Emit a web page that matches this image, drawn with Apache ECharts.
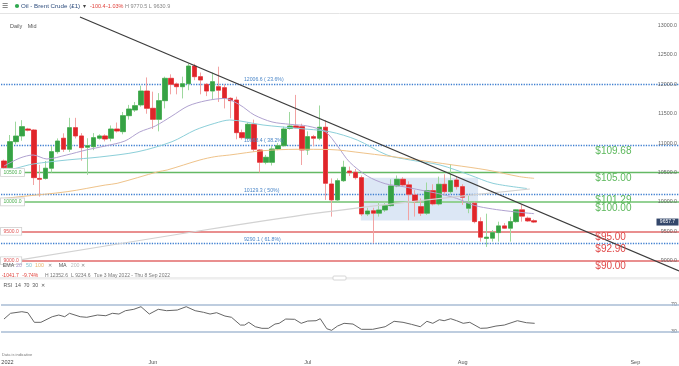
<!DOCTYPE html>
<html><head><meta charset="utf-8">
<script src="https://cdn.jsdelivr.net/npm/echarts@6/dist/echarts.min.js"></script>
<style>html,body{margin:0;padding:0;background:#fff}#c{width:679px;height:366px}</style>
</head><body><div id="c"></div><script>
// ---- data (Brent Crude daily, cents) ----
const opens = [10696,10583,11025,11122,11240,11223,10400,10400,10573,10855, 11083,10896,11263,11122,10930,10940,11083,11122,11083,11240, 11195,11467,11563,11650,11886,11592,11405,11722,12102,12006, 11960,12010,12311,12130,12000,11886,11960,11943,11762,11733, 11178,11083,11320,10883,10674,10674,10900,10957,11250,11292, 11280,10883,11110,11083,11270,10305,10034,10361,10525,10504, 10413,9795,9850,9808,9863,9937,10272,10385,10290,10118, 9920,9808,10192,9966,10300,10175,10373,10260,9892,9977, 9665,9380,9383,9478,9592,9553,9665,9865,9723,9680];
const closes = [10583,11025,11120,11280,11220,10413,10385,10573,10855,11036, 10896,11263,11122,10923,10957,11093,11122,11070,11240,11206, 11467,11580,11637,11886,11592,11405,11722,12102,12000,11960, 12010,12311,12130,12073,11886,12045,11900,11762,11722,11178, 11093,11320,10896,10674,10759,10900,10957,11240,11290,11263, 10883,11110,11083,11270,10317,10034,10361,10590,10497,10413, 9795,9846,9808,9863,9937,10272,10385,10290,10130,10005, 9808,10192,9966,10300,10175,10362,10260,10079,9977,9665, 9400,9400,9478,9592,9553,9665,9865,9758.1,9677,9657.7];
const highs = [10720,11138,11365,11390,11260,11240,10630,10696,10950,11080, 11167,11430,11430,11170,11083,11170,11150,11150,11300,11350, 11530,11650,11700,11977,12117,11875,11850,12130,12170,12030, 12130,12352.6,12350,12200,12020,12200,12300,12000,11780,11790, 11230,11350,11400,10900,10800,10950,11000,11280,11530,11820, 11330,11200,11140,11640,11390,10400,10400,10700,10600,10560, 10450,9900,9900,10000,10000,10385,10450,10420,10350,10200, 10060,10330,10300,10430,10470,10640,10430,10300,10118,10004, 9738,9800,9522,9664,9640,9748,9874,9947,9750,9705];
const lows = [10560,10570,10980,11040,11200,10288,10090,10380,10500,10820, 10850,10850,11080,10700,10460,10880,11060,11030,11030,11180, 11150,11400,11530,11620,11500,11240,11200,11590,11830,11830, 11760,11900,12070,11830,11800,11750,11700,11590,11422,11065, 11060,11060,10850,10500,10640,10620,10880,10940,11230,11250, 10628,10800,10950,11050,10034,9750,10000,10340,10440,10380, 9760,9760,9297,9750,9830,9920,10250,10260,9690,9750, 9760,9780,9940,9940,10140,10140,10210,9950,9808,9636, 9325,9234.6,9325,9325,9540,9325,9646,9664,9660,9640];

// moving averages read at sample bars (bar index, value)
const ema20X = [0,2.7,4.9,7.2,10.5,13.8,17,20.3,22.8,25.4,28.2,30.9,33.9,37,39.6,42,45,48,51,54,56,58,61,64,67,70,73,76,79,82,85,89];
const ema20V = [10610,10747,10798,10730,10798,10883,10951,11036,11190,11291,11461,11631,11721,11760,11650,11480,11360,11320,11290,11190,10950,10680,10440,10310,10260,10200,10140,10060,9940,9880,9840,9800];
const ema50X = [0,2.2,4.9,10.6,16.1,22.5,28.2,32.1,35.4,37.9,43.5,49.2,54.7,59.3,64.3,68.2,73.2,78.2,82.1,87.8];
const ema50V = [10525,10577,10645,10713,10764,10854,11024,11223,11337,11393,11308,11252,11194,11053,10798,10713,10628,10458,10316,10228];
const sma100X = [0,2.7,10.6,17,19,25.9,27.4,32.9,35.4,37.9,43.5,49.2,54.7,60.3,68.2,75.4,81.1,86.6,89];
const sma100V = [10060,10089,10174,10287,10316,10514,10543,10713,10769,10798,10871,10895,10891,10832,10730,10628,10543,10429,10401];
const ma200X = [0,2.7,32.9,52.2,70.7,88.3];
const ma200V = [8970,9013,9510,9806,10032,10220];

// RSI(14)
const rsiX = [0,1.1,3.0,4.0,5.1,6.2,8.1,9.2,10.2,11.0,12.8,13.9,15.7,17.1,18.2,19.3,20.4,21.8,23.0,24.4,25.9,27.3,29.1,30.6,32.1,33.5,34.6,35.7,37.1,38.2,39.7,40.4,41.1,42.2,43.3,44.4,45.5,46.2,47.3,48.8,49.9,51.0,52.4,53.1,54.2,55.0,56.0,57.1,58.6,60.0,61.9,64.0,65.5,67.0,68.4,69.9,71.0,72.0,73.1,73.9,75.0,76.0,77.1,78.2,80.0,81.1,82.6,84.0,86.2,87.7,89.1];
const rsiV = [49.0,57.6,60.0,58.5,44.1,44.1,52.5,55.0,52.5,57.6,52.5,51.6,55.0,54.0,57.6,56.5,61.5,63.6,67.5,56.5,63.6,61.5,62.5,67.5,61.5,59.1,56.5,58.5,53.5,51.6,40.0,40.0,44.1,37.5,35.1,35.1,41.5,42.6,49.0,48.6,42.6,46.0,46.5,49.5,34.5,32.1,38.5,42.6,41.5,33.6,33.6,37.5,45.6,44.1,41.1,37.5,45.6,42.6,48.0,46.5,49.5,46.5,42.6,44.1,35.1,35.5,38.5,40.0,46.5,43.5,42.6];
const rsiLevels = [70, 30];

// levels & annotations
const priceTicks = [9000,9500,10000,10500,11000,11500,12000,12500,13000];
const supportGreen = [10500, 10000];
const supportRed = [9500, 9000];
const fibLevels = [12006.6, 10968.4, 10129.3, 9290.1];
const fibPct = ['23.6%','38.2%','50%','61.8%'];
const dollarLevels = [10968.4, 10500, 10129.3, 10000, 9500, 9290.1, 9000];
const trendStart = [12.76, 13145];
const trendEnd = [113.34, 8825];
const boxFrom = [59.9, 10413];
const boxTo = [79.6, 9685];
const monthTicks = [[0,'2022'],[25,'Jun'],[51,'Jul'],[77,'Aug'],[106,'Sep']];
const N = 114;

// ---- build ----
const FONT = 'Liberation Sans, Arial, sans-serif';
const candleData = opens.map((o,i)=>[o, closes[i], lows[i], highs[i]]);
const bodyData = opens.map((o,i)=>[o, closes[i], Math.min(o,closes[i]), Math.max(o,closes[i])]);
const cats = Array.from({length:N},(_,i)=>{const m=monthTicks.find(t=>t[0]===i);return m?m[1]:'';});
const zip = (xs,ys)=>xs.map((x,i)=>[x,ys[i]]);

const levelLines = [];
supportGreen.forEach((v,i)=>levelLines.push({yAxis:v,lineStyle:{color:i===0?'#64b964':'#94d194',width:i===0?1.4:2.2,type:'solid'}}));
supportRed.forEach(v=>levelLines.push({yAxis:v,lineStyle:{color:'#e26a6a',width:1.5,type:'solid'}}));
fibLevels.forEach(v=>levelLines.push({yAxis:v,lineStyle:{color:'#3f7fd0',width:1.3,type:'dotted'}}));

const labelPoints = [];
fibLevels.forEach((v,i)=>labelPoints.push({coord:[40.2,v],symbol:'rect',symbolSize:1,itemStyle:{color:'rgba(0,0,0,0)'},
  label:{show:true,position:'right',distance:0,offset:[0,-4],formatter:v.toFixed(1)+' ( '+fibPct[i]+')',color:'#4a86c8',fontSize:5.2,fontFamily:FONT}}));
dollarLevels.forEach(v=>labelPoints.push({coord:[99.2,v],symbol:'rect',symbolSize:1,itemStyle:{color:'rgba(0,0,0,0)'},
  label:{show:true,position:'right',distance:0,offset:[0,6],formatter:'$'+(v/100).toFixed(2),color:v>=10000?'#5cb85c':'#e04848',fontSize:10,fontFamily:FONT}}));
labelPoints.push({coord:[111.4,closes[closes.length-1]],symbol:'rect',symbolSize:[22,7],itemStyle:{color:'#34476b'},
  label:{show:true,position:'inside',formatter:closes[closes.length-1].toFixed(1),color:'#fff',fontSize:5,fontFamily:FONT}});

const t = (text,x,y,fill,size,extra)=>Object.assign({type:'text',x:x,y:y,z:100,style:{text:text,fill:fill,fontSize:size,fontFamily:FONT,verticalAlign:'middle',align:'left'}},extra||{});

const option = {
  animation:false,
  backgroundColor:'#fff',
  grid:[
    {left:1,top:10,width:679,height:266,outerBoundsMode:'none',containLabel:false},
    {left:1,top:285,width:679,height:66.75,outerBoundsMode:'none',containLabel:false}
  ],
  xAxis:[
    {type:'category',gridIndex:0,data:cats,boundaryGap:true,show:false},
    {type:'value',gridIndex:0,min:-0.5,max:N-0.5,show:false},
    {type:'category',gridIndex:1,data:cats,boundaryGap:true,axisLine:{show:false},axisTick:{show:false},splitLine:{show:false},
      axisLabel:{interval:0,margin:8,color:'#555',fontSize:5.5,fontFamily:FONT,
        formatter:(v)=>v==='2022'?'{y|2022}':v,rich:{y:{padding:[0,0,0,7],fontSize:5.5,color:'#444',fontFamily:FONT}}}},
    {type:'value',gridIndex:1,min:-0.5,max:N-0.5,show:false}
  ],
  yAxis:[
    {type:'value',gridIndex:0,position:'right',min:8740,max:13264,splitLine:{show:false},axisLine:{show:false},axisTick:{show:false},z:10,
      axisLabel:{inside:true,margin:3,customValues:priceTicks,formatter:(v)=>Number(v).toFixed(1),color:'#666',fontSize:5.3,fontFamily:FONT}},
    {type:'value',gridIndex:0,position:'left',min:8740,max:13264,splitLine:{show:false},axisLine:{show:false},axisTick:{show:false},z:10,
      axisLabel:{inside:true,margin:0,customValues:supportGreen.concat(supportRed),formatter:(v)=>Number(v).toFixed(1),
        color:(v)=>Number(v)>=10000?'#4caf50':'#e05555',fontSize:5,fontFamily:FONT,backgroundColor:'#fff',borderColor:'#cfcfcf',borderWidth:0.8,padding:[1.2,2.5,0.8,2.5]}},
    {type:'value',gridIndex:1,position:'right',min:0,max:100,splitLine:{show:false},axisLine:{show:false},axisTick:{show:false},
      axisLabel:{inside:true,margin:3,customValues:rsiLevels,color:'#666',fontSize:5.3,fontFamily:FONT}}
  ],
  series:[
    {type:'candlestick',name:'wick',xAxisIndex:0,yAxisIndex:0,data:candleData,barWidth:5,z:3,
      itemStyle:{color:'#9ed89e',color0:'#f2a3a3',borderColor:'#9ed89e',borderColor0:'#f2a3a3',borderWidth:1},
      markLine:{silent:true,symbol:['none','none'],label:{show:false},data:levelLines,z:2}},
    {type:'candlestick',name:'body',xAxisIndex:0,yAxisIndex:0,data:bodyData,barWidth:5,z:4,
      itemStyle:{color:'#36a245',color0:'#e0252a',borderColor:'#36a245',borderColor0:'#e0252a',borderWidth:0.5}},
    {type:'line',name:'box',xAxisIndex:1,yAxisIndex:0,data:[],z:1,
      markArea:{silent:true,itemStyle:{color:'rgba(178,202,232,0.45)'},data:[[{coord:boxFrom},{coord:boxTo}]]}},
    {type:'line',name:'EMA20',xAxisIndex:1,yAxisIndex:0,data:zip(ema20X,ema20V),showSymbol:false,smooth:0.3,lineStyle:{color:'#b0a2d0',width:1},z:5},
    {type:'line',name:'EMA50',xAxisIndex:1,yAxisIndex:0,data:zip(ema50X,ema50V),showSymbol:false,smooth:0.3,lineStyle:{color:'#8ccfd9',width:1},z:5},
    {type:'line',name:'SMA100',xAxisIndex:1,yAxisIndex:0,data:zip(sma100X,sma100V),showSymbol:false,smooth:0.3,lineStyle:{color:'#efc38a',width:1},z:5},
    {type:'line',name:'MA200',xAxisIndex:1,yAxisIndex:0,data:zip(ma200X,ma200V),showSymbol:false,smooth:0.3,lineStyle:{color:'#d2d2d2',width:1.2},z:5},
    {type:'line',name:'trend',xAxisIndex:1,yAxisIndex:0,data:[trendStart,trendEnd],showSymbol:false,lineStyle:{color:'#3c3c3c',width:1.2},z:6,
      markPoint:{silent:true,data:labelPoints,z:20}},
    {type:'line',name:'RSI',xAxisIndex:3,yAxisIndex:2,data:zip(rsiX,rsiV),showSymbol:false,lineStyle:{color:'#666',width:1},z:5,
      markLine:{silent:true,symbol:['none','none'],label:{show:false},lineStyle:{color:'#a9bdd4',width:1.6,type:'solid'},data:rsiLevels.map(v=>({yAxis:v}))}}
  ],
  graphic:[
    {type:'line',z:50,shape:{x1:0,y1:13.5,x2:679,y2:13.5},style:{stroke:'#e4e4e4',lineWidth:1}},
    t('☰',1.5,6,'#666',7),
    {type:'circle',z:100,shape:{cx:17,cy:6,r:2.1},style:{fill:'#2fa84f'}},
    t('Oil - Brent Crude (£1)',21,6,'#2c4b7c',6.2),
    t('▾',82.5,6,'#444',6),
    t('-100.4',90,6,'#e0403a',5.5),
    t('-1.03%',106,6,'#e0403a',5.5),
    t('H 9770.5 L 9630.9',125,6,'#888',5.5),
    t('Daily',10,26.5,'#555',5.5),
    t('Mid',27.7,26.5,'#555',5.5),
    t('EMA',2.7,266,'#555',5.3),
    t('20',16,266,'#a897c9',5.3),
    t('50',26,266,'#7ec3cf',5.3),
    t('100',35,266,'#e9b46a',5.3),
    t('✕',47.5,266,'#888',5),
    t('MA',58.7,266,'#555',5.3),
    t('200',70.7,266,'#bbb',5.3),
    t('✕',81,266,'#888',5),
    t('-1041.7',1.7,275.3,'#e0403a',5),
    t('-9.74%',22.3,275.3,'#e0403a',5),
    t('H 12352.6',45,275.3,'#777',5),
    t('L 9234.6',71,275.3,'#777',5),
    t('Tue 3 May 2022 - Thu 8 Sep 2022',94,275.3,'#777',5),
    {type:'rect',z:50,shape:{x:0,y:277,width:679,height:2.5},style:{fill:'#eeeeee'}},
    {type:'rect',z:51,shape:{x:333,y:276,width:13,height:4,r:1},style:{fill:'#fff',stroke:'#cccccc',lineWidth:0.8}},
    t('RSI  14  70  30  ✕',3.5,286,'#555',5.2),
    t('Data is indicative',2,355,'#777',4)
  ]
};
const chart = echarts.init(document.getElementById('c'));
chart.setOption(option);
</script></body></html>
